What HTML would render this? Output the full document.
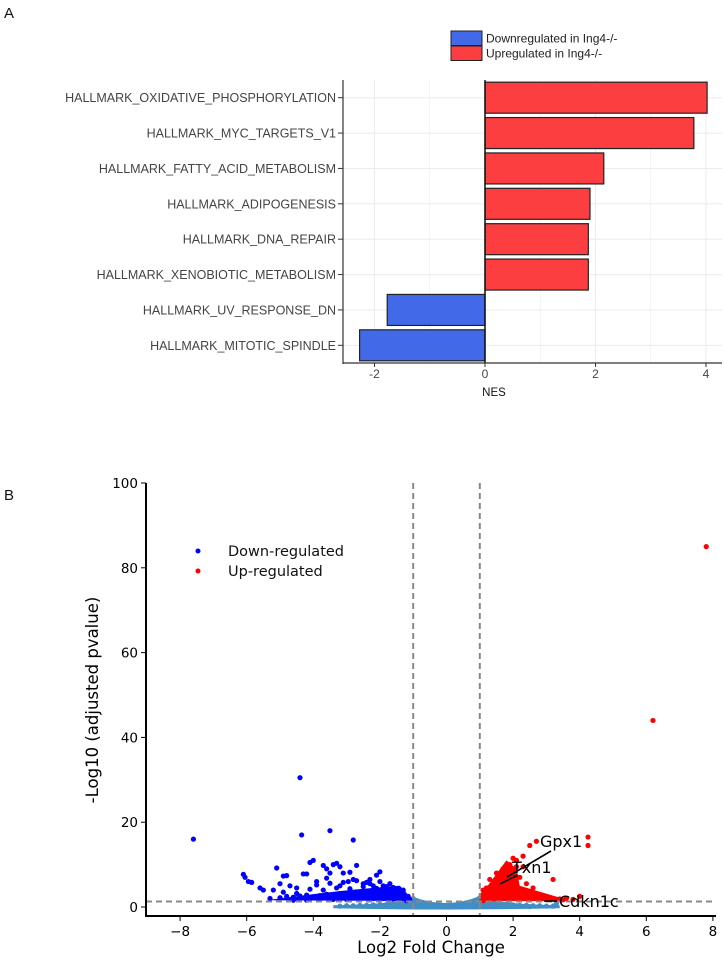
<!DOCTYPE html>
<html><head><meta charset="utf-8"><style>
body{margin:0;background:#fff;}
svg{display:block;}
</style></head><body>
<svg id="chart" width="724" height="960" xmlns="http://www.w3.org/2000/svg">
<text x="4" y="18" font-family="Liberation Sans, sans-serif" font-size="15" fill="#111">A</text>
<text x="4" y="500" font-family="Liberation Sans, sans-serif" font-size="15" fill="#111">B</text>
<g id="pa"></g>
<g id="pb"></g>
</svg>
<script>
// ---- Panel A data ----
const pathways = ["HALLMARK_OXIDATIVE_PHOSPHORYLATION","HALLMARK_MYC_TARGETS_V1","HALLMARK_FATTY_ACID_METABOLISM","HALLMARK_ADIPOGENESIS","HALLMARK_DNA_REPAIR","HALLMARK_XENOBIOTIC_METABOLISM","HALLMARK_UV_RESPONSE_DN","HALLMARK_MITOTIC_SPINDLE"];
const nes = [4.02, 3.78, 2.15, 1.9, 1.87, 1.87, -1.77, -2.27];
const nesTicks = [-2, 0, 2, 4];

// ---- Panel B data ----
const bgX = [-3.2,-3,-2.8,-2.6,-2.4,-2.2,-2,-1.8,-1.6,-1.4,-1.2,-1.1,-1,-0.9,-0.8,-0.7,-0.6,-0.5,-0.4,-0.3,-0.2,-0.1,0,0.1,0.2,0.3,0.4,0.5,0.6,0.7,0.8,0.9,1,1.1,1.2,1.4,1.6,1.8,2,2.2,2.4,2.6,2.8,3,3.2,-1,-0.8,-0.5,0.5,0.8,1,-1.5,1.5,2.5,3.3];
const bgY = [0.2,0.3,0.3,0.4,0.4,0.5,0.5,0.6,0.7,0.8,1,1.2,2,1.2,1,0.8,0.6,0.4,0.3,0.2,0.1,0,0,0,0.1,0.2,0.3,0.4,0.6,0.8,1.1,1.3,2.2,1.2,1,0.8,0.7,0.6,0.5,0.4,0.4,0.3,0.3,0.2,0.2,1.5,0.5,0.1,0.1,0.5,1.4,0.2,0.2,0.1,0.8];
const downX = [-7.6,-4.4,-4.35,-3.5,-2.8,-6.1,-6.05,-5.95,-5.85,-5.6,-5.5,-5.2,-5.1,-5.0,-4.9,-4.8,-4.7,-4.5,-4.3,-4.2,-4.1,-4.0,-3.9,-3.7,-3.6,-3.5,-3.4,-3.3,-3.2,-3.1,-2.95,-2.9,-2.7,-2.5,-2.3,-2.1,-2.0,-1.9,-1.7,-1.5,-1.3,
 -5.3,-5.0,-4.8,-4.6,-4.4,-4.2,-4.0,-3.8,-3.6,-3.4,-3.2,-3.0,-2.8,-2.6,-2.4,-2.2,-2.0,-1.8,-1.6,-1.4,-1.2,-1.1,
 -4.9,-4.5,-4.1,-3.7,-3.3,-2.9,-2.5,-2.1,-1.7,-1.5,-1.3,-1.15,
 -4.6,-4.2,-3.8,-3.4,-3.0,-2.6,-2.2,-1.9,-1.6,-1.4,-1.2,
 -3.9,-3.5,-3.1,-2.7,-2.3,-2.0,-1.8,-1.6,-1.3,-3.6,-3.2,-2.8,-2.4,-2.2,-1.9];
const downY = [16,30.5,17,18,15.8,7.7,7,6,5.8,4.5,4,4,9.2,5.5,7.3,7.4,5,4.5,7.8,7.8,10.5,11,6,9.8,9,8,10,10.3,9.5,8,6,8.2,9.8,5.5,6.5,7.5,8.3,5,5.5,4.3,3.5,
 2,2.2,2.5,2.3,2.6,2.8,2.4,2.7,3,2.9,3.2,3.1,3.3,3.2,3.4,3.2,3.3,3.1,2.9,2.6,2.2,1.8,
 3.5,3.2,4.2,4,4.5,4.3,4.8,4.4,4.2,3.8,3.2,2.5,
 1.6,1.6,1.7,1.8,1.8,1.9,2,2,1.9,1.8,1.5,
 5.2,5.6,5.8,6.2,5.5,6,4.8,4.6,4,6.8,5,6.5,5.8,5,4.3];
const upX = [7.8,6.2,4.25,4.25,3.2,4.0,3.6,3.3,3.0,2.7,2.5,2.3,2.1,2.0,1.9,1.8,1.7,1.6,1.5,1.4,1.3,1.2,1.1,1.05,
 2.6,2.4,2.2,2.0,1.8,1.6,1.4,1.2,2.3,2.1,1.9,1.7,1.5,1.3,1.1,2.2,2.0,1.8,1.6,1.4,1.2,
 2.8,3.0,3.4,3.8,2.6,2.4,2.2,2.9,3.5,1.9,2.1,1.7,1.5,1.3,1.1];
const upY = [85,44,16.5,14.5,6.5,2.5,2,1.8,2,15.5,14.5,12,11,11.5,10,8.5,9,7,6,5,4,3.5,3,2,
 4.5,5.5,7,8,7.5,6.5,5.5,4.5,9.5,9.5,9,9,8,6.5,4,2,3,4,4.8,3.8,2.5,
 2,1.8,1.9,1.8,2.2,2.5,3,2.6,1.7,1.8,2.2,2.5,2,1.6,1.5];
const volXTicks = [-8,-6,-4,-2,0,2,4,6,8];
const volYTicks = [0,20,40,60,80,100];

const NS="http://www.w3.org/2000/svg";
function mk(p,tag,at){const e=document.createElementNS(NS,tag);for(const k in at)e.setAttribute(k,at[k]);p.appendChild(e);return e;}

// Panel A
(function(){
 const g=document.getElementById('pa');
 const x0=343,x1=722,top=80,bot=363;
 const xs=v=>485+v*55.25;
 const rowH=(bot-top)/pathways.length;
 const font='Liberation Sans Narrow, Liberation Sans, sans-serif';
 for(let v=-2;v<=4;v+=1){const gl=mk(g,'line',{x1:xs(v),x2:xs(v),y1:top,y2:bot,stroke:'#ebebeb','stroke-width':v%2===0?1:0.6});
 
 }
 pathways.forEach((p,i)=>{const cy=top+rowH*(i+0.5);
  const gl=mk(g,'line',{x1:x0,x2:x1,y1:cy,y2:cy,stroke:'#ebebeb'});
  
  });
 pathways.forEach((p,i)=>{
  const cy=top+rowH*(i+0.5),v=nes[i];
  const r=mk(g,'rect',{x:Math.min(xs(0),xs(v)),y:cy-15.5,width:Math.abs(xs(v)-xs(0)),height:31,fill:v>0?'#fd3e40':'#4169e8',stroke:'#222','stroke-width':1.2});
  
  
  const t=mk(g,'text',{x:336,y:cy+4.5,'text-anchor':'end','font-family':font,'font-size':12.5,fill:'#444'});
  t.textContent=p;
  
  
  const tk=mk(g,'line',{x1:338,x2:343,y1:cy,y2:cy,stroke:'#333'});
  
  
 });
 const zl=mk(g,'line',{x1:xs(0),x2:xs(0),y1:top,y2:bot,stroke:'#111','stroke-width':1.5});
 
 
 const ya=mk(g,'line',{x1:x0,x2:x0,y1:top,y2:bot+1,stroke:'#333','stroke-width':1.2});
 
 
 const xa=mk(g,'line',{x1:x0,x2:x1,y1:bot,y2:bot,stroke:'#333','stroke-width':1.2});
 
 
 nesTicks.forEach(v=>{
  const tk=mk(g,'line',{x1:xs(v),x2:xs(v),y1:bot,y2:bot+4,stroke:'#333'});
  
  
  const t=mk(g,'text',{x:xs(v),y:bot+15,'text-anchor':'middle','font-family':font,'font-size':12,fill:'#444'});
  t.textContent=(v<0?'-':'')+Math.abs(v);
  
  
 });
 const xt=mk(g,'text',{x:494,y:396,'text-anchor':'middle','font-family':font,'font-size':11.5,fill:'#111'});
 xt.textContent='NES';
 
 
 const leg=[['#4169e8','Downregulated in Ing4-/-',31],['#fd3e40','Upregulated in Ing4-/-',46]];
 leg.forEach(l=>{
  const r=mk(g,'rect',{x:451,y:l[2],width:31,height:14.5,fill:l[0],stroke:'#222','stroke-width':1});
  
  
  const t=mk(g,'text',{x:486,y:l[2]+11.5,'font-family':font,'font-size':12,fill:'#222'});
  t.textContent=l[1];
  
  
 });
})();

// Panel B
(function(){
 const g=document.getElementById('pb');
 const font='DejaVu Sans, sans-serif';
 const xs=v=>446.5+v*33.3, ys=v=>907-v*4.24;
 const L=146,R=716,T=483,B=916;
 bgX.forEach((x,i)=>{const c=mk(g,'circle',{cx:xs(x),cy:ys(bgY[i]),r:2.6,fill:'#3f8fc6'});
  
  });
 const band=mk(g,'path',{d:`M${xs(-3.4)},${ys(0.4)} Q${xs(-1.5)},${ys(0.6)} ${xs(-1)},${ys(2.4)} Q${xs(0)},${ys(-0.6)} ${xs(1)},${ys(2.6)} Q${xs(1.5)},${ys(0.6)} ${xs(3.4)},${ys(0.4)} L${xs(3.4)},${ys(-0.3)} Q${xs(0)},${ys(-0.9)} ${xs(-3.4)},${ys(-0.3)} Z`,fill:'#3f8fc6'});
 
 
 downX.forEach((x,i)=>{const c=mk(g,'circle',{cx:xs(x),cy:ys(downY[i]),r:2.6,fill:'#0000ff'});
  
  });
 const db=mk(g,'path',{d:`M${xs(-5.4)},${ys(1.6)} Q${xs(-3)},${ys(4.2)} ${xs(-1.4)},${ys(5)} L${xs(-1.05)},${ys(2)} L${xs(-1.05)},${ys(1.4)} Z`,fill:'#0000ff'});
 
 
 upX.forEach((x,i)=>{const c=mk(g,'circle',{cx:xs(x),cy:ys(upY[i]),r:2.6,fill:'#ff0000'});
  
  });
 const ub=mk(g,'path',{d:`M${xs(1.05)},${ys(1.4)} L${xs(1.05)},${ys(3)} L${xs(1.8)},${ys(11)} L${xs(2.1)},${ys(9)} L${xs(2.2)},${ys(5)} L${xs(3.4)},${ys(2.2)} L${xs(3.4)},${ys(1.4)} Z`,fill:'#ff0000'});
 
 
 [[xs(-1),T,xs(-1),B],[xs(1),T,xs(1),B],[L,ys(1.3),R,ys(1.3)]].forEach(a=>{
  const l=mk(g,'line',{x1:a[0],y1:a[1],x2:a[2],y2:a[3],stroke:'#888','stroke-width':2,'stroke-dasharray':'6,4'});
  
  });
 [['Gpx1',540,847,551,851,507,877],['Txn1',512,873,518,875,500,884],['Cdkn1c',559,907,544,901,557,901]].forEach(a=>{
  const ln=mk(g,'line',{x1:a[3],y1:a[4],x2:a[5],y2:a[6],stroke:'#000','stroke-width':1.6});
  
  
  const t=mk(g,'text',{x:a[1],y:a[2],'font-family':font,'font-size':16,fill:'#000'});
  t.textContent=a[0];
  
  
 });
 const ya=mk(g,'line',{x1:L,x2:L,y1:T,y2:B+1,stroke:'#000','stroke-width':2});
 
 
 const xa=mk(g,'line',{x1:L-1,x2:R,y1:B,y2:B,stroke:'#000','stroke-width':2});
 
 
 volXTicks.forEach(v=>{
  const tk=mk(g,'line',{x1:xs(v),x2:xs(v),y1:B,y2:B+5,stroke:'#000','stroke-width':1});
  
  
  const t=mk(g,'text',{x:xs(v),y:B+20,'text-anchor':'middle','font-family':font,'font-size':13.5,fill:'#000'});
  t.textContent=(v<0?'\u2212':'')+Math.abs(v);
  
  
 });
 volYTicks.forEach(v=>{
  const tk=mk(g,'line',{x1:L-5,x2:L,y1:ys(v),y2:ys(v),stroke:'#000','stroke-width':1});
  
  
  const t=mk(g,'text',{x:L-8,y:ys(v)+5,'text-anchor':'end','font-family':font,'font-size':13.5,fill:'#000'});
  t.textContent=v;
  
  
 });
 const xt=mk(g,'text',{x:431,y:953,'text-anchor':'middle','font-family':font,'font-size':16.5,fill:'#000'});
 xt.textContent='Log2 Fold Change';
 
 
 const yt=mk(g,'text',{x:0,y:0,'text-anchor':'middle','font-family':font,'font-size':16.5,fill:'#000',transform:'translate(98,700) rotate(-90)'});
 yt.textContent='-Log10 (adjusted pvalue)';
 
 
 [['#0000ff','Down-regulated',551],['#ff0000','Up-regulated',571]].forEach(l=>{
  const c=mk(g,'circle',{cx:198,cy:l[2],r:2.5,fill:l[0]});
  
  
  const t=mk(g,'text',{x:228,y:l[2]+5,'font-family':font,'font-size':14.5,fill:'#111'});
  t.textContent=l[1];
  
  
 });
})();
</script>
</body></html>
